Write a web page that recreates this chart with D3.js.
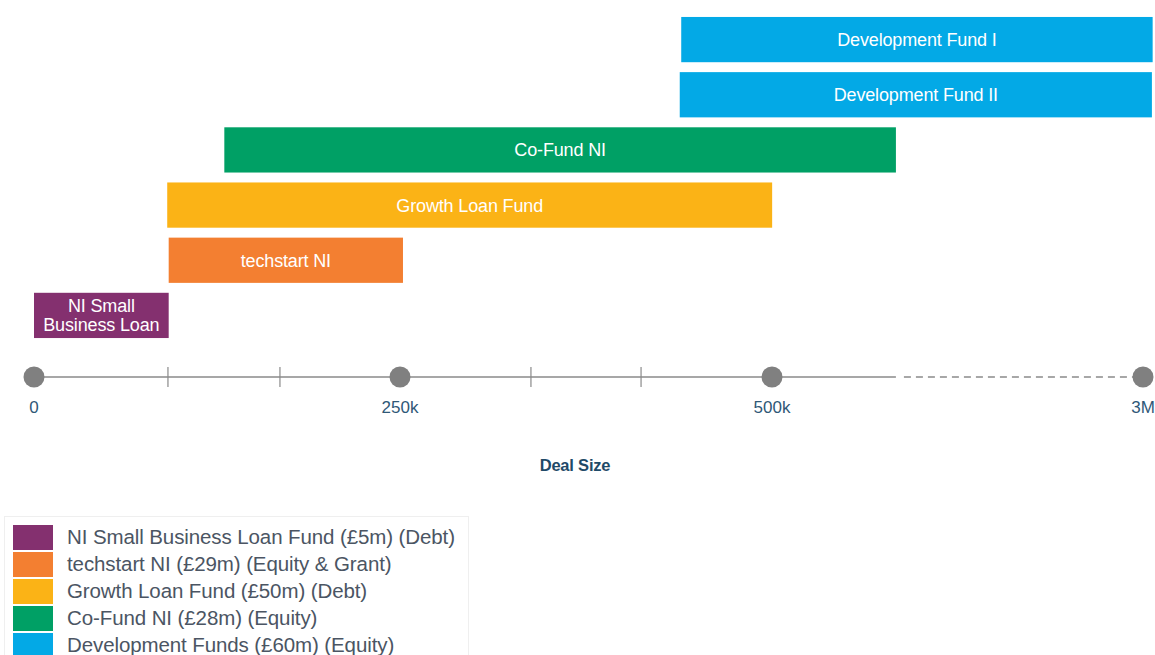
<!DOCTYPE html>
<html lang="en">
  <head>
    <meta charset="utf-8" />
    <title>Deal size by fund</title>
    <script src="https://d3js.org/d3.v7.min.js"></script>
    <style>
      body {
        margin: 0;
        background: white;
      }
      .bar-label {
        fill: white;
        font-family: "Liberation Sans", Arial, sans-serif;
        font-size: 18px;
        letter-spacing: -0.15px;
        text-anchor: middle;
      }
      .tick-label {
        fill: #2f5877;
        font-family: "Liberation Sans", Arial, sans-serif;
        font-size: 17px;
        text-anchor: middle;
      }
      .axis-title {
        fill: #1f4a68;
        font-family: "Liberation Sans", Arial, sans-serif;
        font-size: 16.5px;
        font-weight: bold;
        text-anchor: middle;
        letter-spacing: -0.2px;
      }
      .legend-label {
        fill: #4b5563;
        font-family: "Liberation Sans", Arial, sans-serif;
        font-size: 20.5px;
        letter-spacing: -0.1px;
      }
    </style>
  </head>
  <body>
    <svg width="1155" height="655"></svg>
    <script>
      // funds, top to bottom
      const funds = [
        "Development Fund I",
        "Development Fund II",
        "Co-Fund NI",
        "Growth Loan Fund",
        "techstart NI",
        "NI Small Business Loan",
      ];
      const dealMin = [439000, 438000, 130000, 91000, 92000, 0];
      const dealMax = [3065000, 3060000, 1335000, 501000, 252000, 92000];
      const barLabels = [
        ["Development Fund I"],
        ["Development Fund II"],
        ["Co-Fund NI"],
        ["Growth Loan Fund"],
        ["techstart NI"],
        ["NI Small", "Business Loan"],
      ];
      const fundColours = [
        "#03a9e6",
        "#03a9e6",
        "#00a065",
        "#fbb316",
        "#f37f31",
        "#84306f",
      ];

      // axis
      const majorTicks = [0, 250000, 500000, 3000000];
      const majorLabels = ["0", "250k", "500k", "3M"];
      const minorTicks = [91500, 168000, 338000, 412000];
      const solidEnd = 1335000;

      // legend
      const legendLabels = [
        "NI Small Business Loan Fund (£5m) (Debt)",
        "techstart NI (£29m) (Equity & Grant)",
        "Growth Loan Fund (£50m) (Debt)",
        "Co-Fund NI (£28m) (Equity)",
        "Development Funds (£60m) (Equity)",
      ];
      const legendColours = ["#84306f", "#f37f31", "#fbb316", "#00a065", "#03a9e6"];

      const svg = d3.select("svg");

      // piecewise scale: the last segment is compressed
      const x = d3
        .scaleLinear()
        .domain(majorTicks)
        .range([34, 400, 772, 1143]);

      const y = d3
        .scaleBand()
        .domain(funds)
        .range([12, 343])
        .paddingInner(0.18)
        .paddingOuter(0.09);

      const rows = funds.map((f, i) => ({
        fund: f,
        min: dealMin[i],
        max: dealMax[i],
        lines: barLabels[i],
        colour: fundColours[i],
      }));

      // bars
      const bars = svg.append("g").selectAll("g").data(rows).join("g");

      bars
        .append("rect")
        .attr("x", (d) => x(d.min))
        .attr("y", (d) => y(d.fund))
        .attr("width", (d) => x(d.max) - x(d.min))
        .attr("height", y.bandwidth())
        .attr("fill", (d) => d.colour);

      bars
        .append("text")
        .attr("class", "bar-label")
        .attr("x", (d) => (x(d.min) + x(d.max)) / 2)
        .attr("y", (d) => y(d.fund) + y.bandwidth() / 2)
        .selectAll("tspan")
        .data((d) => d.lines.map((t, i) => ({ t, i, n: d.lines.length })))
        .join("tspan")
        .attr("x", function () {
          return this.parentNode.getAttribute("x");
        })
        .attr("dy", (d) =>
          d.i === 0 ? (6.5 - (d.n - 1) * 9.5) + "px" : "19px"
        )
        .text((d) => d.t);

      // axis
      const axisY = 377;
      const axis = svg.append("g");

      axis
        .append("line")
        .attr("x1", x(0))
        .attr("x2", x(solidEnd))
        .attr("y1", axisY)
        .attr("y2", axisY)
        .attr("stroke", "#8a8a8a")
        .attr("stroke-width", 1.5);

      axis
        .append("line")
        .attr("x1", x(solidEnd) + 8)
        .attr("x2", x(3000000))
        .attr("y1", axisY)
        .attr("y2", axisY)
        .attr("stroke", "#8a8a8a")
        .attr("stroke-width", 1.5)
        .attr("stroke-dasharray", "7,5");

      axis
        .selectAll(".minor")
        .data(minorTicks)
        .join("line")
        .attr("class", "minor")
        .attr("x1", (d) => x(d))
        .attr("x2", (d) => x(d))
        .attr("y1", axisY - 10)
        .attr("y2", axisY + 10)
        .attr("stroke", "#8a8a8a")
        .attr("stroke-width", 1.2);

      axis
        .selectAll("circle")
        .data(majorTicks)
        .join("circle")
        .attr("cx", (d) => x(d))
        .attr("cy", axisY)
        .attr("r", 10.5)
        .attr("fill", "#808080");

      axis
        .selectAll(".tick-label")
        .data(majorTicks)
        .join("text")
        .attr("class", "tick-label")
        .attr("x", (d) => x(d))
        .attr("y", 413)
        .text((d, i) => majorLabels[i]);

      svg
        .append("text")
        .attr("class", "axis-title")
        .attr("x", 575)
        .attr("y", 471)
        .text("Deal Size");

      // legend
      const legend = svg.append("g");
      legend
        .append("rect")
        .attr("x", 4.5)
        .attr("y", 516.5)
        .attr("width", 464)
        .attr("height", 145)
        .attr("fill", "white")
        .attr("stroke", "#efefef");

      legend
        .selectAll(".swatch")
        .data(legendColours)
        .join("rect")
        .attr("class", "swatch")
        .attr("x", 13)
        .attr("y", (d, i) => 525 + i * 27)
        .attr("width", 40)
        .attr("height", 25)
        .attr("fill", (d) => d);

      legend
        .selectAll(".legend-label")
        .data(legendLabels)
        .join("text")
        .attr("class", "legend-label")
        .attr("x", 67)
        .attr("y", (d, i) => 544 + i * 27)
        .text((d) => d);
    </script>
  </body>
</html>
